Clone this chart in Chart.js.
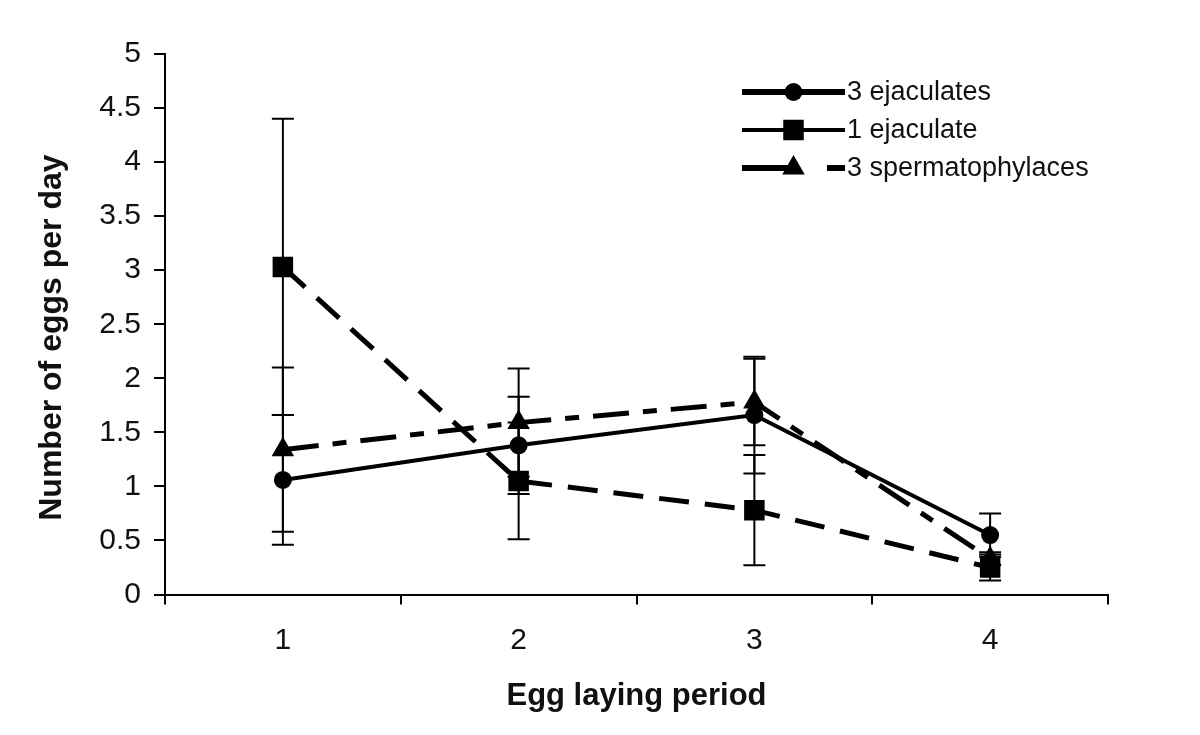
<!DOCTYPE html>
<html>
<head>
<meta charset="utf-8">
<script src="https://cdn.jsdelivr.net/npm/chart.js@4.4.1/dist/chart.umd.min.js"></script>
<style>
  html, body { margin: 0; padding: 0; background: #fff; }
  #wrap { width: 1200px; height: 735px; }
</style>
</head>
<body>
<div id="wrap"><canvas id="eggs-chart" width="1200" height="735"></canvas></div>
<script>
// values (mean and +/- error per laying period)
const periods = ['1', '2', '3', '4'];

const threeEjaculates = [1.06, 1.38, 1.66, 0.55];
const threeEjaculatesErr = [0.60, 0.45, 0.54, 0.20];

const oneEjaculate = [3.03, 1.05, 0.78, 0.25];
const oneEjaculateErr = [1.37, 0.54, 0.51, 0.12];

const threeSpermatophylaces = [1.34, 1.59, 1.78, 0.33];
const threeSpermatophylacesErr = [0.76, 0.50, 0.40, 0.06];

const yMin = 0, yMax = 5, yStep = 0.5;

Chart.defaults.font.family = '"Liberation Sans", Arial, sans-serif';
Chart.defaults.color = '#111';

// vertical error bars with caps, drawn under the lines
const errorBars = {
    id: 'errorBars',
    beforeDatasetsDraw(chart, args, opts) {
        const ctx = chart.ctx;
        const yScale = chart.scales.y;
        ctx.save();
        ctx.strokeStyle = '#000';
        ctx.lineWidth = 2;
        chart.data.datasets.forEach(function (ds, i) {
            chart.getDatasetMeta(i).data.forEach(function (pt, j) {
                const top = yScale.getPixelForValue(ds.data[j] + ds.errors[j]);
                const bottom = yScale.getPixelForValue(ds.data[j] - ds.errors[j]);
                ctx.beginPath();
                ctx.moveTo(pt.x, top);
                ctx.lineTo(pt.x, bottom);
                ctx.moveTo(pt.x - opts.cap, top);
                ctx.lineTo(pt.x + opts.cap, top);
                ctx.moveTo(pt.x - opts.cap, bottom);
                ctx.lineTo(pt.x + opts.cap, bottom);
                ctx.stroke();
            });
        });
        ctx.restore();
    }
};

// excel style legend: line with marker in the middle, label on the right
const lineLegend = {
    id: 'lineLegend',
    afterDraw(chart, args, opts) {
        const ctx = chart.ctx;
        chart.data.datasets.forEach(function (ds, i) {
            const y = opts.top + i * opts.rowHeight;
            ctx.save();
            ctx.strokeStyle = '#000';
            ctx.fillStyle = '#000';
            ctx.lineWidth = ds.legendLineWidth;
            ctx.setLineDash(ds.legendDash);
            ctx.beginPath();
            ctx.moveTo(opts.left, y);
            ctx.lineTo(opts.left + opts.lineLength, y);
            ctx.stroke();
            ctx.setLineDash([]);
            Chart.helpers.drawPoint(ctx, {
                pointStyle: ds.pointStyle,
                radius: ds.pointRadius,
                rotation: 0,
                borderWidth: 0
            }, opts.left + opts.lineLength / 2, y);

            ctx.font = opts.fontSize + 'px "Liberation Sans", Arial, sans-serif';
            ctx.fillStyle = '#111';
            ctx.textBaseline = 'middle';
            ctx.textAlign = 'left';
            ctx.fillText(ds.label, opts.left + opts.lineLength + 2, y + 1);
            ctx.restore();
        });
    }
};

const eggsChart = new Chart('eggs-chart', {
    type: 'line',
    data: {
        labels: periods,
        datasets: [
            {
                label: '3 ejaculates',
                data: threeEjaculates,
                errors: threeEjaculatesErr,
                borderColor: '#000',
                backgroundColor: '#000',
                borderWidth: 4,
                pointStyle: 'circle',
                pointRadius: 9,
                pointBorderWidth: 0,
                legendLineWidth: 6,
                legendDash: []
            },
            {
                label: '1 ejaculate',
                data: oneEjaculate,
                errors: oneEjaculateErr,
                borderColor: '#000',
                backgroundColor: '#000',
                borderWidth: 5,
                borderDash: [30, 16],
                pointStyle: 'rect',
                pointRadius: 14.5,
                pointBorderWidth: 0,
                legendLineWidth: 4,
                legendDash: []
            },
            {
                label: '3 spermatophylaces',
                data: threeSpermatophylaces,
                errors: threeSpermatophylacesErr,
                borderColor: '#000',
                backgroundColor: '#000',
                borderWidth: 5,
                borderDash: [36, 14, 14, 14],
                pointStyle: 'triangle',
                pointRadius: 13,
                pointBorderWidth: 0,
                legendLineWidth: 6,
                legendDash: [48, 37, 20]
            }
        ]
    },
    options: {
        responsive: false,
        animation: false,
        events: [],
        layout: {
            padding: { top: 54, right: 92, bottom: 0, left: 0 }
        },
        plugins: {
            legend: { display: false },
            tooltip: { enabled: false },
            errorBars: { cap: 11 },
            lineLegend: { left: 742, top: 92, rowHeight: 38, lineLength: 103, fontSize: 27 }
        },
        scales: {
            x: {
                offset: true,
                afterFit: function (scale) { scale.height = 140.5; },
                grid: {
                    offset: true,
                    drawOnChartArea: false,
                    drawTicks: true,
                    tickLength: 10,
                    color: '#000',
                    lineWidth: 2
                },
                border: { display: true, color: '#000', width: 2 },
                ticks: {
                    color: '#111',
                    padding: 18,
                    font: { size: 30 }
                },
                title: {
                    display: true,
                    text: 'Egg laying period',
                    color: '#111',
                    font: { size: 31, weight: 'bold' },
                    padding: { top: 0, bottom: 20 }
                }
            },
            y: {
                min: yMin,
                max: yMax,
                afterFit: function (scale) { scale.width = 165; },
                grid: {
                    drawOnChartArea: false,
                    drawTicks: true,
                    tickLength: 11,
                    color: '#000',
                    lineWidth: 2
                },
                border: { display: true, color: '#000', width: 2 },
                ticks: {
                    stepSize: yStep,
                    color: '#111',
                    padding: 13,
                    font: { size: 30 },
                    callback: function (value) { return String(value); }
                },
                title: {
                    display: true,
                    // trailing spaces nudge the centred title a little lower, as in the figure
                    text: 'Number of eggs per day   ',
                    color: '#111',
                    font: { size: 32, weight: 'bold' },
                    padding: { top: 33, bottom: 0 }
                }
            }
        }
    },
    plugins: [errorBars, lineLegend]
});
</script>
</body>
</html>
